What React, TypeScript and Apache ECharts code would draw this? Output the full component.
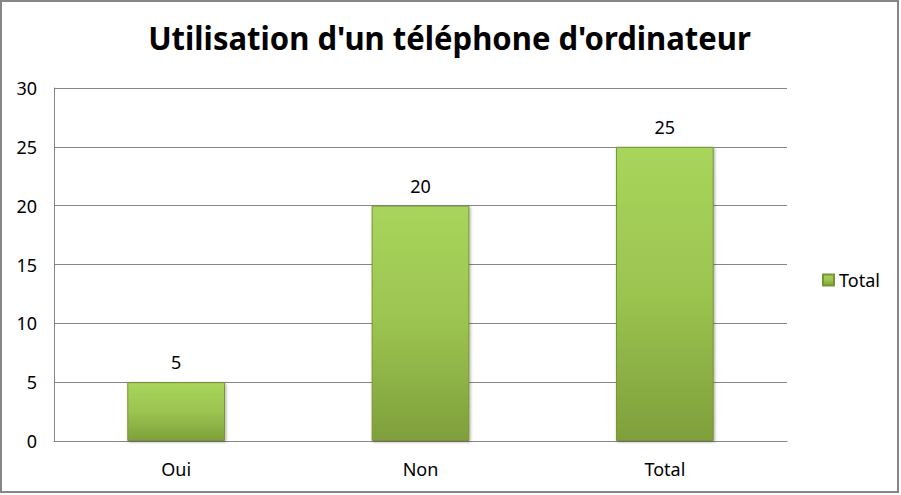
import React, { useEffect, useRef } from "react";
import * as echarts from "echarts";

const titleText = "Utilisation d'un téléphone d'ordinateur";
const categories = ["Oui", "Non", "Total"];
const values = [5, 20, 25];
const seriesName = "Total";
const yTicks = { min: 0, max: 30, interval: 5 };

export default function App() {
  const ref = useRef<HTMLDivElement>(null);
  useEffect(() => {
    document.body.style.margin = "0";
    const chart = echarts.init(ref.current!, null, { renderer: "svg" });
    const font = "'Noto Sans', sans-serif";
    chart.setOption({
      animation: false,
      backgroundColor: "#ffffff",
      graphic: [
        {
          type: "rect",
          shape: { x: 1, y: 1, width: 897, height: 491 },
          style: { fill: "none", stroke: "#868686", lineWidth: 2 },
          silent: true,
        },
        {
          type: "text",
          x: 449.5,
          y: 21,
          scaleX: 0.97,
          style: {
            text: titleText,
            fontFamily: font,
            fontWeight: "bold",
            fontSize: 32,
            fill: "#000000",
            textAlign: "center",
            textVerticalAlign: "top",
          },
        },
      ],
      legend: {
        data: [seriesName],
        left: 817,
        top: 266,
        orient: "vertical",
        itemWidth: 11,
        itemHeight: 11,
        itemGap: 4,
        icon: "rect",
        textStyle: { fontFamily: font, fontSize: 18, color: "#000" },
      },
      grid: { left: 54, top: 88, width: 733, height: 353, containLabel: false },
      xAxis: {
        type: "category",
        data: categories,
        axisLine: { lineStyle: { color: "#868686", width: 1 } },
        axisTick: { show: false },
        axisLabel: { fontFamily: font, fontSize: 18, color: "#000", margin: 19 },
      },
      yAxis: {
        type: "value",
        min: yTicks.min,
        max: yTicks.max,
        interval: yTicks.interval,
        axisLine: { show: true, lineStyle: { color: "#868686", width: 1 } },
        axisTick: { show: false },
        splitLine: { lineStyle: { color: "#868686", width: 1 } },
        axisLabel: { fontFamily: font, fontSize: 18, color: "#000", margin: 17 },
      },
      series: [
        {
          name: seriesName,
          type: "bar",
          data: values,
          barWidth: "40%",
          itemStyle: {
            color: new echarts.graphic.LinearGradient(0, 0, 0, 1, [
              { offset: 0, color: "#a9d55c" },
              { offset: 0.5, color: "#9bc450" },
              { offset: 1, color: "#7f9f3b" },
            ]),
            borderColor: "#789536",
            borderWidth: 1,
            shadowColor: "rgba(0,0,0,0.35)",
            shadowBlur: 3,
            shadowOffsetX: 1,
            shadowOffsetY: 1,
          },
          label: {
            show: true,
            position: "top",
            distance: 11,
            fontFamily: font,
            fontSize: 18,
            color: "#000",
          },
        },
      ],
    });
    return () => chart.dispose();
  }, []);
  return (
    <div
      ref={ref}
      style={{ position: "absolute", left: 0, top: 0, width: 901, height: 495 }}
    />
  );
}
